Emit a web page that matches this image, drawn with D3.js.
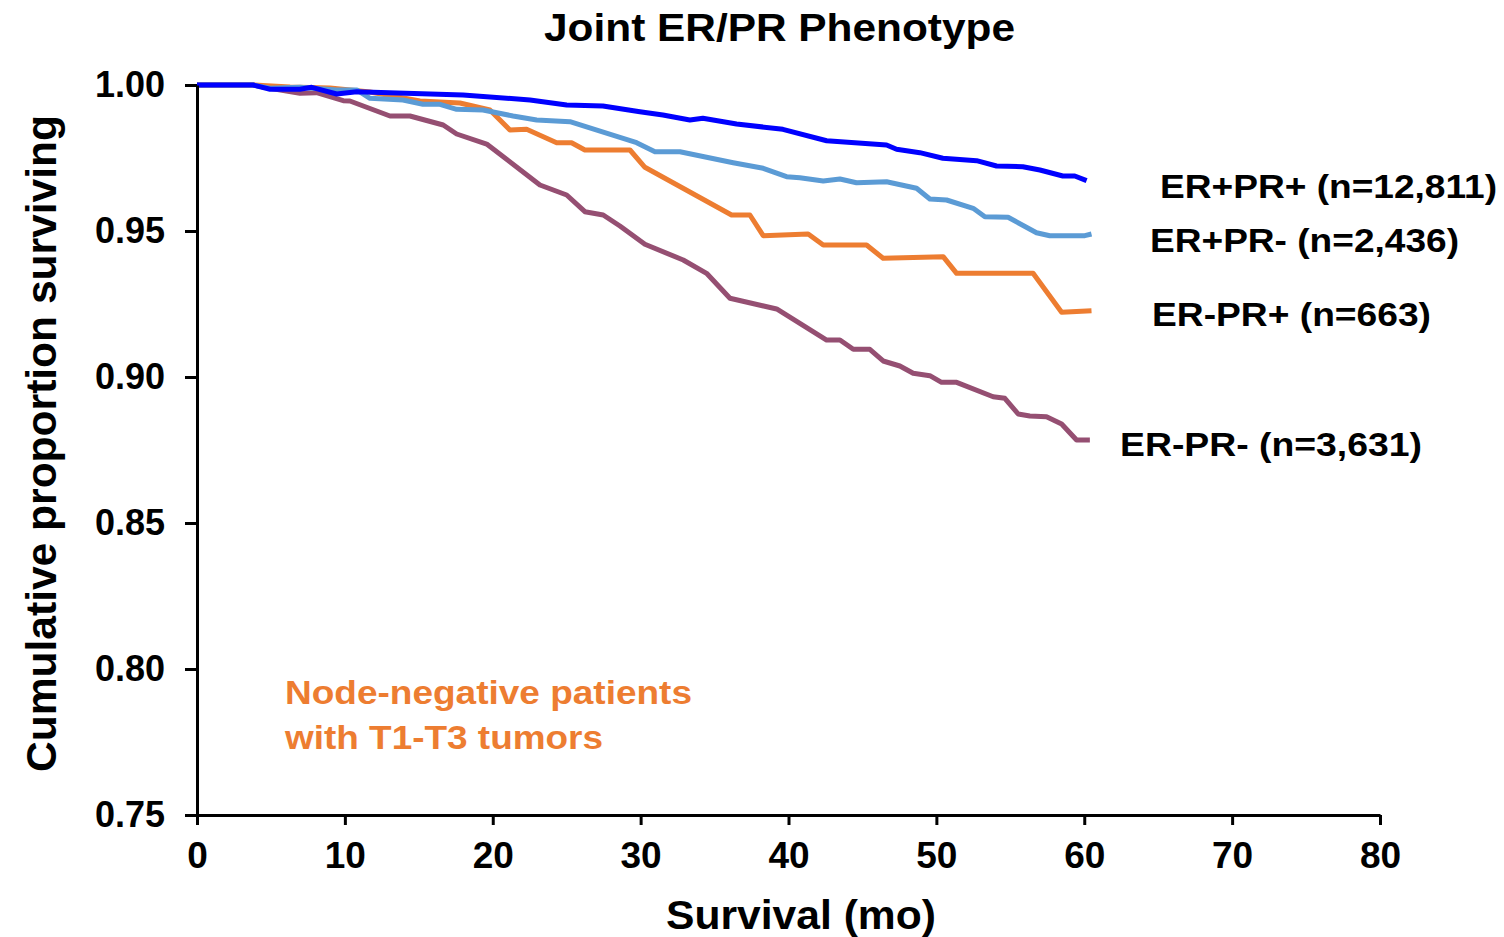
<!DOCTYPE html>
<html>
<head>
<meta charset="utf-8">
<script src="https://cdn.jsdelivr.net/npm/d3@7/dist/d3.min.js"></script>
<style>
  html, body { margin: 0; padding: 0; background: #fff; }
  svg { display: block; }
  text { font-family: Arial, "Liberation Sans", Helvetica, sans-serif; font-weight: bold; }
</style>
</head>
<body>
<svg id="chart" width="1504" height="937"></svg>
<script>
// Kaplan-Meier style survival curves by joint ER/PR phenotype: [month, proportion surviving]
const erPosPrPos = [
  [0, 1.0], [3.79, 1.0], [4.94, 0.99853], [6.96, 0.99853], [7.76, 0.99921], [9.45, 0.99692],
  [10.80, 0.99771], [17.99, 0.99658], [22.52, 0.99486], [25.0, 0.99315], [27.45, 0.99281],
  [29.95, 0.99086], [31.51, 0.98973], [33.33, 0.98801], [34.21, 0.98860], [36.49, 0.98664],
  [39.62, 0.98483], [42.58, 0.98092], [46.63, 0.97945], [47.31, 0.97798], [48.88, 0.97682],
  [50.44, 0.97490], [52.72, 0.97408], [54.07, 0.97226], [55.85, 0.97202], [57.0, 0.97089],
  [58.55, 0.96884], [59.36, 0.96884], [60.16, 0.96723]
];
const erPosPrNeg = [
  [0, 1.0], [3.79, 1.0], [4.94, 0.99887], [6.96, 0.99921], [9.45, 0.99829], [10.80, 0.99829],
  [11.70, 0.99545], [13.93, 0.99486], [15.28, 0.99339], [16.43, 0.99339], [17.56, 0.99168],
  [19.34, 0.99144], [21.37, 0.98938], [22.97, 0.98801], [25.22, 0.98743], [28.6, 0.98209],
  [29.73, 0.98024], [30.97, 0.97716], [32.66, 0.97716], [36.26, 0.97339], [38.29, 0.97147],
  [39.87, 0.96860], [40.77, 0.96825], [42.35, 0.96712], [43.48, 0.96781], [44.60, 0.96654],
  [46.63, 0.96688], [48.66, 0.96462], [49.56, 0.96096], [50.69, 0.96062], [52.49, 0.95777],
  [53.28, 0.95490], [54.85, 0.95469], [56.77, 0.94942], [57.67, 0.94839], [60.04, 0.94839],
  [60.49, 0.94897]
];
const erNegPrPos = [
  [0, 1.0], [3.79, 1.0], [6.29, 0.99932], [8.99, 0.99897], [11.70, 0.99760], [15.08, 0.99452],
  [17.78, 0.99384], [19.81, 0.99144], [21.16, 0.98459], [22.29, 0.98483], [24.32, 0.98024],
  [25.33, 0.98024], [26.23, 0.97774], [29.28, 0.97774], [30.29, 0.97182], [36.15, 0.95548],
  [37.39, 0.95548], [38.29, 0.94839], [41.33, 0.94897], [42.35, 0.94521], [45.28, 0.94521],
  [46.40, 0.94065], [50.46, 0.94120], [51.37, 0.93551], [56.54, 0.93551], [58.47, 0.92216],
  [60.49, 0.92271]
];
const erNegPrNeg = [
  [0, 1.0], [3.79, 1.0], [4.94, 0.99887], [6.96, 0.99716], [8.09, 0.99736], [9.89, 0.99462],
  [10.34, 0.99452], [13.05, 0.98938], [14.40, 0.98938], [16.65, 0.98630], [17.56, 0.98322],
  [19.59, 0.97979], [23.19, 0.96575], [25.0, 0.96233], [26.23, 0.95661], [27.47, 0.95548],
  [28.6, 0.95171], [30.29, 0.94545], [32.88, 0.94007], [34.46, 0.93551], [36.04, 0.92695],
  [39.20, 0.92329], [42.58, 0.91267], [43.48, 0.91267], [44.38, 0.90949], [45.50, 0.90949],
  [46.40, 0.90548], [47.53, 0.90377], [48.43, 0.90127], [49.56, 0.90045], [50.35, 0.89818],
  [51.37, 0.89818], [53.84, 0.89325], [54.63, 0.89271], [55.53, 0.88733], [56.32, 0.88664],
  [57.45, 0.88640], [58.47, 0.88390], [59.48, 0.87842], [60.38, 0.87842]
];

const seriesNames = ["ER-PR- (n=3,631)", "ER-PR+ (n=663)", "ER+PR- (n=2,436)", "ER+PR+ (n=12,811)"];
const seriesData = [erNegPrNeg, erNegPrPos, erPosPrNeg, erPosPrPos];
const seriesColors = ["#954F72", "#ED7D31", "#5B9BD5", "#0000FF"];

const xTicks = [0, 10, 20, 30, 40, 50, 60, 70, 80];
const yTicks = [0.75, 0.80, 0.85, 0.90, 0.95, 1.00];

const titleText = "Joint ER/PR Phenotype";
const xLabel = "Survival (mo)";
const yLabel = "Cumulative proportion surviving";
const noteLines = ["Node-negative patients", "with T1-T3 tumors"];

// ---- layout ----
const svg = d3.select("#chart");
const plot = { left: 197, right: 1380, top: 85, bottom: 815 };

const x = d3.scaleLinear().domain([0, 80]).range([plot.left, plot.right]);
const y = d3.scaleLinear().domain([0.75, 1.0]).range([plot.bottom, plot.top]);

svg.append("rect").attr("width", 1504).attr("height", 937).attr("fill", "#fff");

// curves
const line = d3.line().x(d => x(d[0])).y(d => y(d[1]));
svg.append("g").selectAll("path")
  .data(seriesData)
  .join("path")
  .attr("d", d => line(d))
  .attr("fill", "none")
  .attr("stroke", (d, i) => seriesColors[i])
  .attr("stroke-width", 5)
  .attr("stroke-linejoin", "round");

// axes
const yAxis = d3.axisLeft(y).tickValues(yTicks).tickFormat(d3.format(".2f"))
  .tickSize(12).tickSizeOuter(0).tickPadding(20);
const gy = svg.append("g").attr("transform", `translate(${plot.left},0)`).call(yAxis);

const xAxis = d3.axisBottom(x).tickValues(xTicks).tickFormat(d3.format("d"))
  .tickSize(10).tickSizeOuter(0).tickPadding(17);
const gx = svg.append("g").attr("transform", `translate(0,${plot.bottom})`).call(xAxis);

[gx, gy].forEach(g => {
  g.select(".domain").attr("stroke", "#000").attr("stroke-width", 3);
  g.selectAll(".tick line").attr("stroke", "#000").attr("stroke-width", 3);
  g.selectAll(".tick text").attr("fill", "#000").style("font-weight", "bold")
    .style("font-family", 'Arial, "Liberation Sans", sans-serif');
});
gy.selectAll(".tick text").style("font-size", "36px");
gx.selectAll(".tick text").style("font-size", "37px");

// title
svg.append("text")
  .attr("x", 779.5).attr("y", 41)
  .attr("text-anchor", "middle")
  .attr("font-size", 39)
  .attr("textLength", 471).attr("lengthAdjust", "spacingAndGlyphs")
  .text(titleText);

// axis titles
svg.append("text")
  .attr("x", 801).attr("y", 929)
  .attr("text-anchor", "middle")
  .attr("font-size", 40)
  .attr("textLength", 270).attr("lengthAdjust", "spacingAndGlyphs")
  .text(xLabel);

svg.append("text")
  .attr("transform", "translate(56,443.5) rotate(-90)")
  .attr("text-anchor", "middle")
  .attr("font-size", 43)
  .attr("textLength", 657).attr("lengthAdjust", "spacingAndGlyphs")
  .text(yLabel);

// series labels at the right of each curve
const labelPos = [
  { x: 1120, y: 456, w: 302 },
  { x: 1152, y: 326, w: 279 },
  { x: 1150, y: 252, w: 309 },
  { x: 1160, y: 198, w: 337 }
];
svg.append("g").selectAll("text")
  .data(seriesNames)
  .join("text")
  .attr("x", (d, i) => labelPos[i].x)
  .attr("y", (d, i) => labelPos[i].y)
  .attr("font-size", 33)
  .attr("textLength", (d, i) => labelPos[i].w)
  .attr("lengthAdjust", "spacingAndGlyphs")
  .attr("fill", "#000")
  .text(d => d);

// cohort note
const noteWidths = [407, 318];
svg.append("g").selectAll("text")
  .data(noteLines)
  .join("text")
  .attr("x", 285)
  .attr("y", (d, i) => 704 + i * 45)
  .attr("font-size", 34)
  .attr("textLength", (d, i) => noteWidths[i])
  .attr("lengthAdjust", "spacingAndGlyphs")
  .attr("fill", "#ED7D31")
  .text(d => d);
</script>
</body>
</html>
